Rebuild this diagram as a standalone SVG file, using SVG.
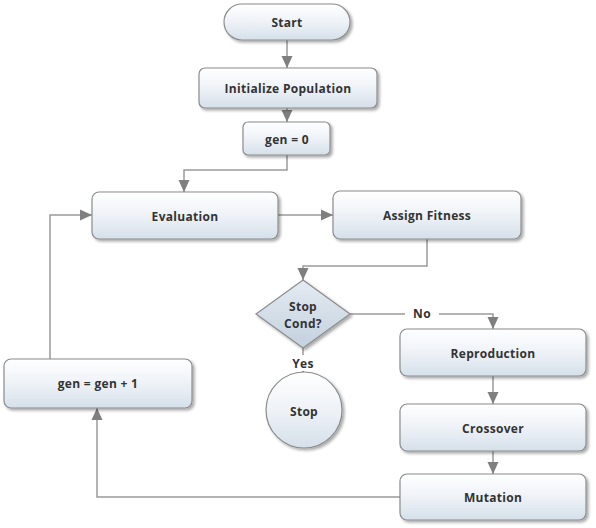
<svg xmlns="http://www.w3.org/2000/svg" width="596" height="528" viewBox="0 0 596 528">
<defs>
<linearGradient id="g" x1="0" y1="0" x2="0" y2="1">
<stop offset="0" stop-color="#ffffff"/>
<stop offset="0.5" stop-color="#eef2f7"/>
<stop offset="1" stop-color="#d5e0ea"/>
</linearGradient>
<linearGradient id="gd" x1="0" y1="0" x2="0" y2="1">
<stop offset="0" stop-color="#e4ebf2"/>
<stop offset="1" stop-color="#c3d1de"/>
</linearGradient>
<filter id="sh" x="-10%" y="-10%" width="125%" height="135%">
<feGaussianBlur in="SourceAlpha" stdDeviation="1.5"/>
<feOffset dx="1.5" dy="2" result="b"/>
<feComponentTransfer><feFuncA type="linear" slope="0.35"/></feComponentTransfer>
<feMerge><feMergeNode/><feMergeNode in="SourceGraphic"/></feMerge>
</filter>
<marker id="ar" viewBox="0 0 12 12" refX="12" refY="6" markerWidth="12" markerHeight="12" markerUnits="userSpaceOnUse" orient="auto">
<path d="M0,0.5 L12,6 L0,11.5 z" fill="#7f7f7f"/>
</marker>
</defs>
<style>
.n{fill:url(#g);stroke:#8c8c8c;stroke-width:1.2;filter:url(#sh)}
.d{fill:url(#gd);stroke:#8c8c8c;stroke-width:1.2;filter:url(#sh)}
.t{font-family:"Open Sans","Liberation Sans",sans-serif;font-weight:bold;font-size:12px;fill:#333;text-anchor:middle;dominant-baseline:central;letter-spacing:0.3px}
.ca{fill:none;stroke:#9a9a9a;stroke-width:1.5;marker-end:url(#ar)}
</style>
<g id="connectors">
<path class="ca" d="M287,40 V68"/>
<path class="ca" d="M287,108 V122"/>
<path class="ca" d="M287,155 V170 H184 V192"/>
<path class="ca" d="M278,215 H333"/>
<path class="ca" d="M427,239 V266 H303 V280"/>
<path class="ca" d="M350,314 H493 V329"/>
<path class="ca" d="M303,348 V373"/>
<path class="ca" d="M493,376 V404"/>
<path class="ca" d="M493,451 V474"/>
<path class="ca" d="M400,497 H97 V408"/>
<path class="ca" d="M50,359 V215 H92"/>
<rect x="405" y="305" width="34" height="16" fill="#fff"/>
<text class="t" x="422" y="313">No</text>
<rect x="289" y="355" width="28" height="16" fill="#fff"/>
<text class="t" x="303" y="363">Yes</text>
</g>
<g id="start"><rect class="n" x="224" y="4" width="126" height="36" rx="18"/><text class="t" x="287" y="22">Start</text></g>
<g id="init"><rect class="n" x="199" y="68" width="178" height="40" rx="6"/><text class="t" x="288" y="88">Initialize Population</text></g>
<g id="gen0"><rect class="n" x="243" y="122" width="87" height="33" rx="5"/><text class="t" x="287" y="139">gen = 0</text></g>
<g id="evaluation"><rect class="n" x="92" y="192" width="186" height="47" rx="7"/><text class="t" x="185" y="216">Evaluation</text></g>
<g id="fitness"><rect class="n" x="333" y="191" width="188" height="48" rx="7"/><text class="t" x="427" y="215">Assign Fitness</text></g>
<g id="stopcond"><path class="d" d="M303,280 L350,314 L303,348 L256,314 Z"/><text class="t" x="303" y="306">Stop</text><text class="t" x="303" y="323">Cond?</text></g>
<g id="stop"><circle class="n" cx="304" cy="410" r="38"/><text class="t" x="304" y="411">Stop</text></g>
<g id="reproduction"><rect class="n" x="400" y="329" width="186" height="47" rx="7"/><text class="t" x="493" y="353">Reproduction</text></g>
<g id="crossover"><rect class="n" x="400" y="404" width="186" height="47" rx="7"/><text class="t" x="493" y="428">Crossover</text></g>
<g id="mutation"><rect class="n" x="400" y="474" width="186" height="46" rx="7"/><text class="t" x="493" y="497">Mutation</text></g>
<g id="geninc"><rect class="n" x="4" y="359" width="188" height="49" rx="7"/><text class="t" x="98" y="383">gen = gen + 1</text></g>
</svg>
